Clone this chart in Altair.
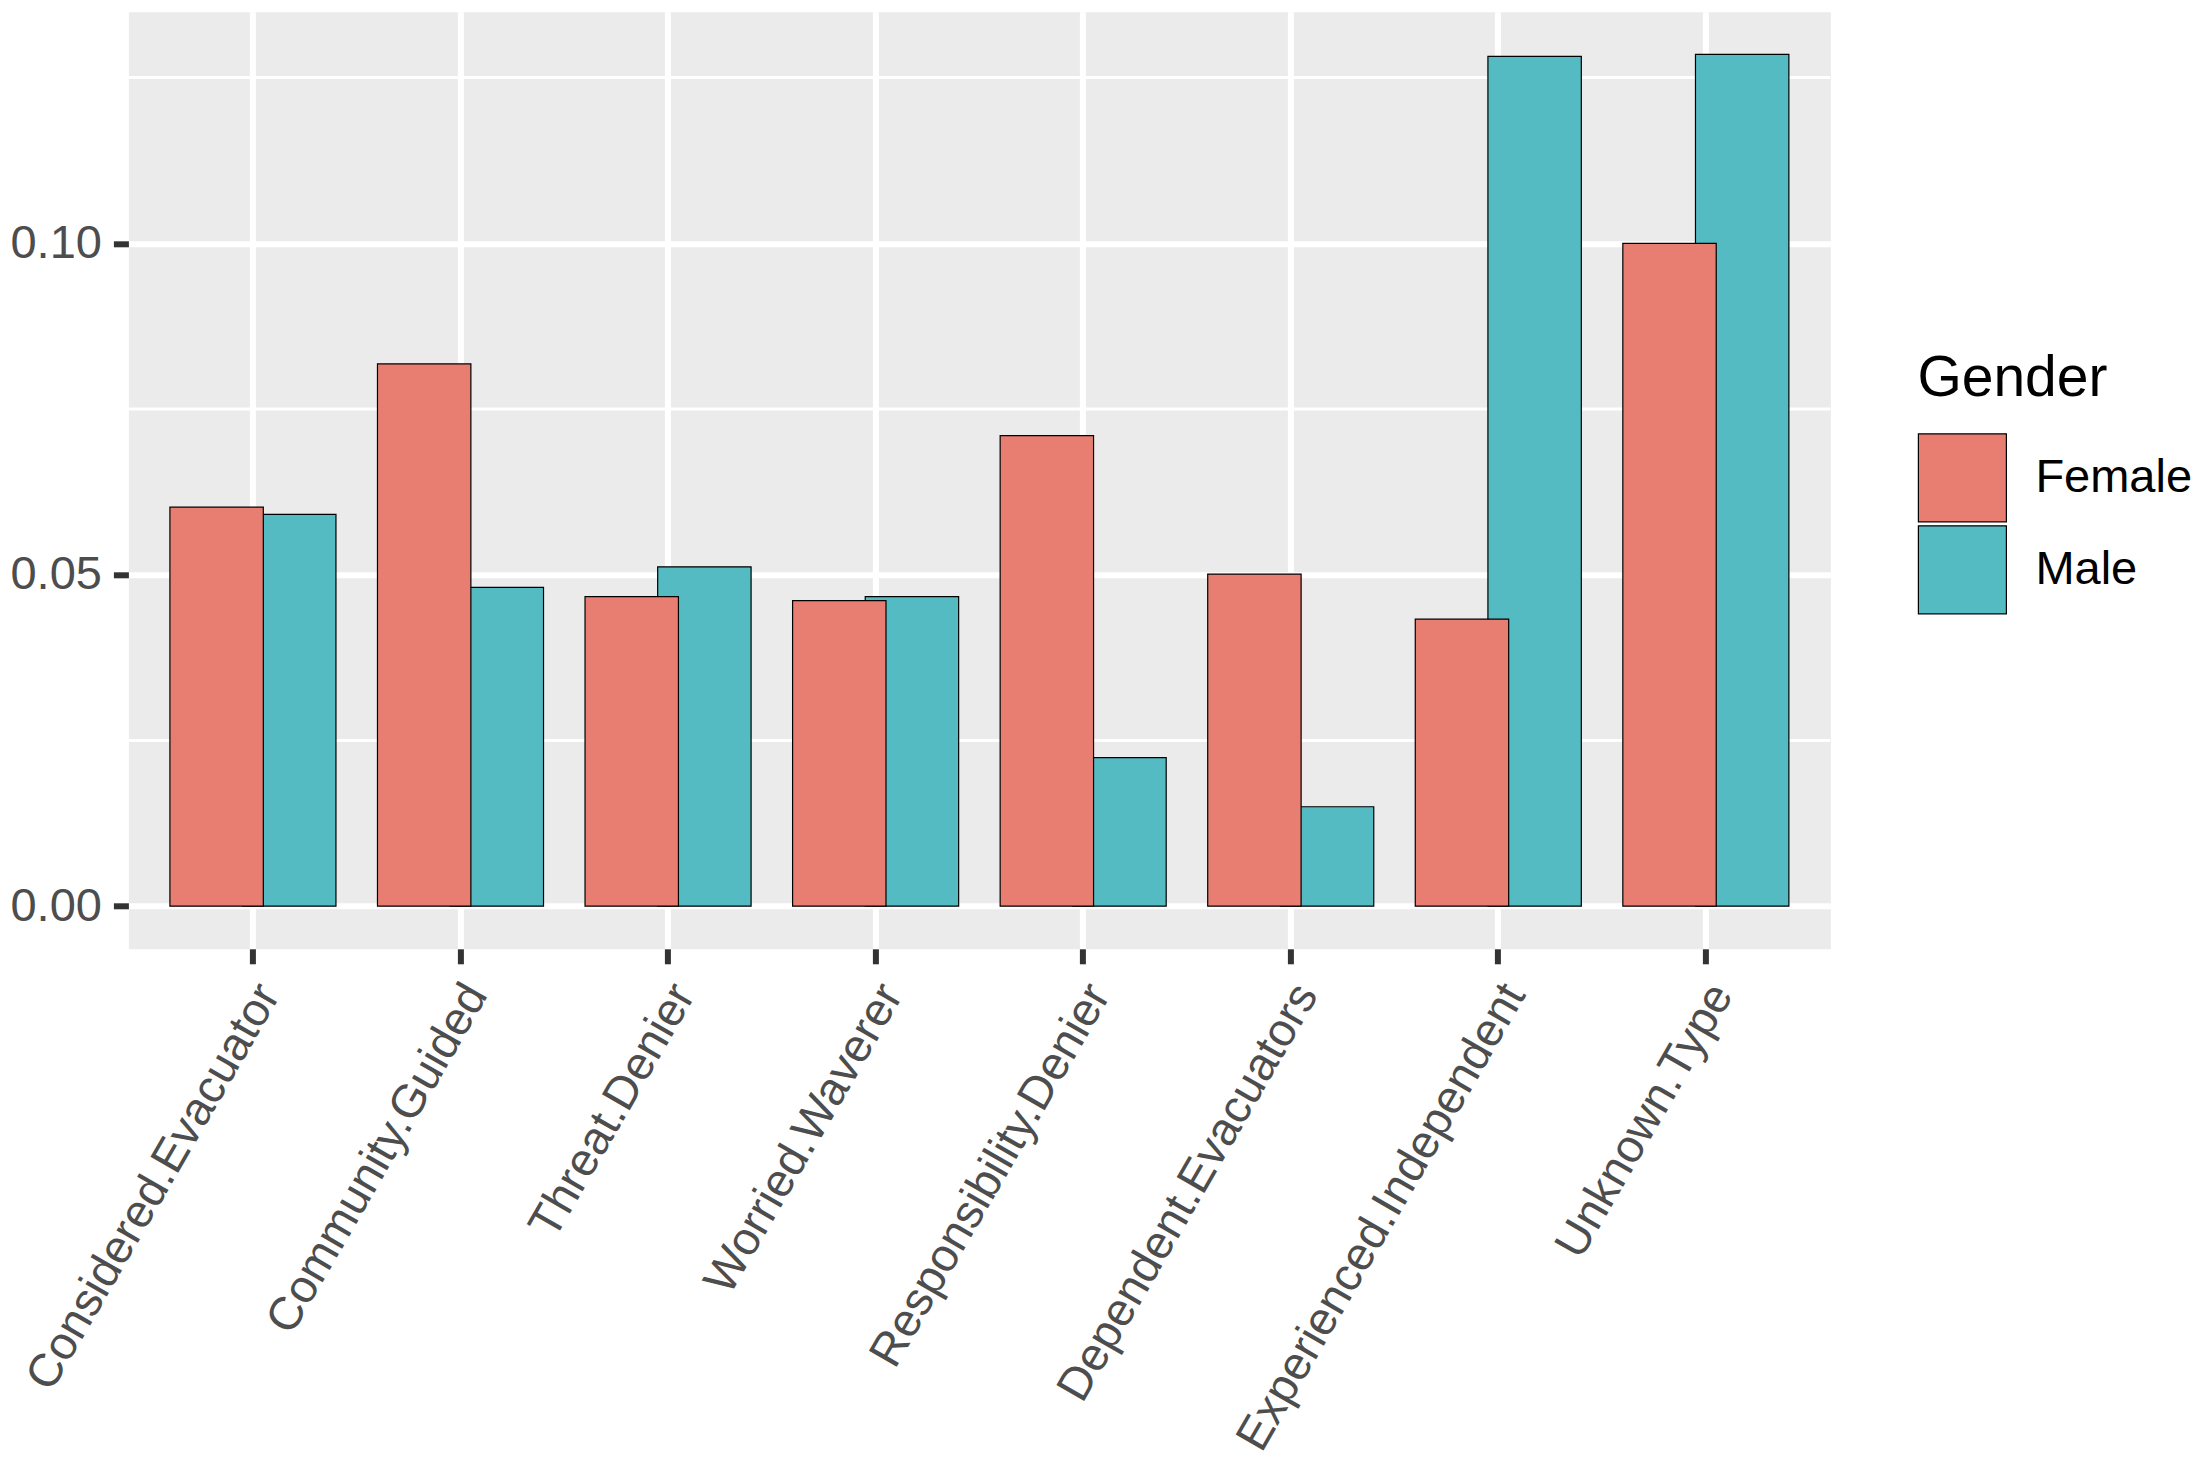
import altair as alt
import pandas as pd

categories = ["Considered.Evacuator", "Community.Guided", "Threat.Denier",
              "Worried.Waverer", "Responsibility.Denier", "Dependent.Evacuators",
              "Experienced.Independent", "Unknown.Type"]
female = [0.0602, 0.0818, 0.0467, 0.0461, 0.0710, 0.0501, 0.0433, 0.1000]
male = [0.0591, 0.0481, 0.0512, 0.0467, 0.0224, 0.0150, 0.1282, 0.1285]
genders = ["Female", "Male"]
colors = ["#E87E72", "#55BBC3"]
major_ticks = [0.0, 0.05, 0.10]
minor_ticks = [0.025, 0.075, 0.125]

df = pd.DataFrame({
    "type": categories * 2,
    "gender": ["Female"] * len(categories) + ["Male"] * len(categories),
    "value": female + male,
})
minor_df = pd.DataFrame({"value": minor_ticks})

W, H = 1702, 937
step = W / 8.2
ymax = max(female + male)
expand = 0.05 * ymax
FONT = "Liberation Sans"

xscale = alt.Scale(domain=categories, paddingInner=0, paddingOuter=0.1)
yscale = alt.Scale(domain=[-expand, ymax + expand], nice=False, zero=False)

x_enc = alt.X("type:N", scale=xscale, sort=categories,
              axis=alt.Axis(title=None, labelAngle=-60, labelAlign="right",
                            labelBaseline="top", labelFontSize=46.5,
                            labelColor="#4D4D4D", labelFont=FONT,
                            tickColor="#333333", tickWidth=6, tickSize=15,
                            labelPadding=12, labelOffset=-4,
                            grid=True, gridColor="white",
                            gridWidth=6, bandPosition=0.5, domain=False,
                            labelLimit=0))
y_axis = alt.Axis(title=None, values=major_ticks, format=".2f",
                  labelFontSize=47, labelColor="#4D4D4D", labelFont=FONT,
                  tickColor="#333333", tickWidth=6, tickSize=15,
                  labelPadding=12, grid=True, gridColor="white",
                  gridWidth=6, domain=False)
y_enc = alt.Y("value:Q", scale=yscale, axis=y_axis)
color_enc = alt.Color("gender:N", scale=alt.Scale(domain=genders, range=colors),
                      legend=alt.Legend(title="Gender", orient="none",
                                        legendX=1789, legendY=339,
                                        symbolType="square", symbolSize=7744,
                                        symbolStrokeColor="black",
                                        symbolStrokeWidth=1.2,
                                        symbolOpacity=1,
                                        titleFontSize=57, titleFont=FONT,
                                        titleColor="black", titleFontWeight="normal",
                                        titlePadding=25, titleLimit=1000,
                                        labelFontSize=47, labelFont=FONT,
                                        labelColor="black", labelOffset=28,
                                        labelLimit=1000,
                                        rowPadding=-4, padding=0))

minor = alt.Chart(minor_df).mark_rule(color="white", strokeWidth=3).encode(
    y=alt.Y("value:Q", scale=yscale, axis=y_axis))

male_bars = alt.Chart(df).transform_filter(alt.datum.gender == "Male").mark_bar(
    width=alt.RelativeBandSize(0.45), xOffset=step * 0.175,
    stroke="black", strokeWidth=1.2, opacity=1).encode(
    x=x_enc, y=y_enc, y2=alt.datum(0), color=color_enc)

female_bars = alt.Chart(df).transform_filter(alt.datum.gender == "Female").mark_bar(
    width=alt.RelativeBandSize(0.45), xOffset=-step * 0.175,
    stroke="black", strokeWidth=1.2, opacity=1).encode(
    x=x_enc, y=y_enc, y2=alt.datum(0), color=color_enc)

chart = alt.layer(minor, male_bars, female_bars).properties(
    width=W, height=H,
    autosize=alt.AutoSizeParams(type="none"),
    padding={"left": 120.4, "top": 3.8, "right": 361, "bottom": 515},
).configure(font=FONT).configure_view(fill="#EBEBEB", stroke="transparent")

chart.save("out.html", embed_options={"renderer": "svg", "actions": False})
